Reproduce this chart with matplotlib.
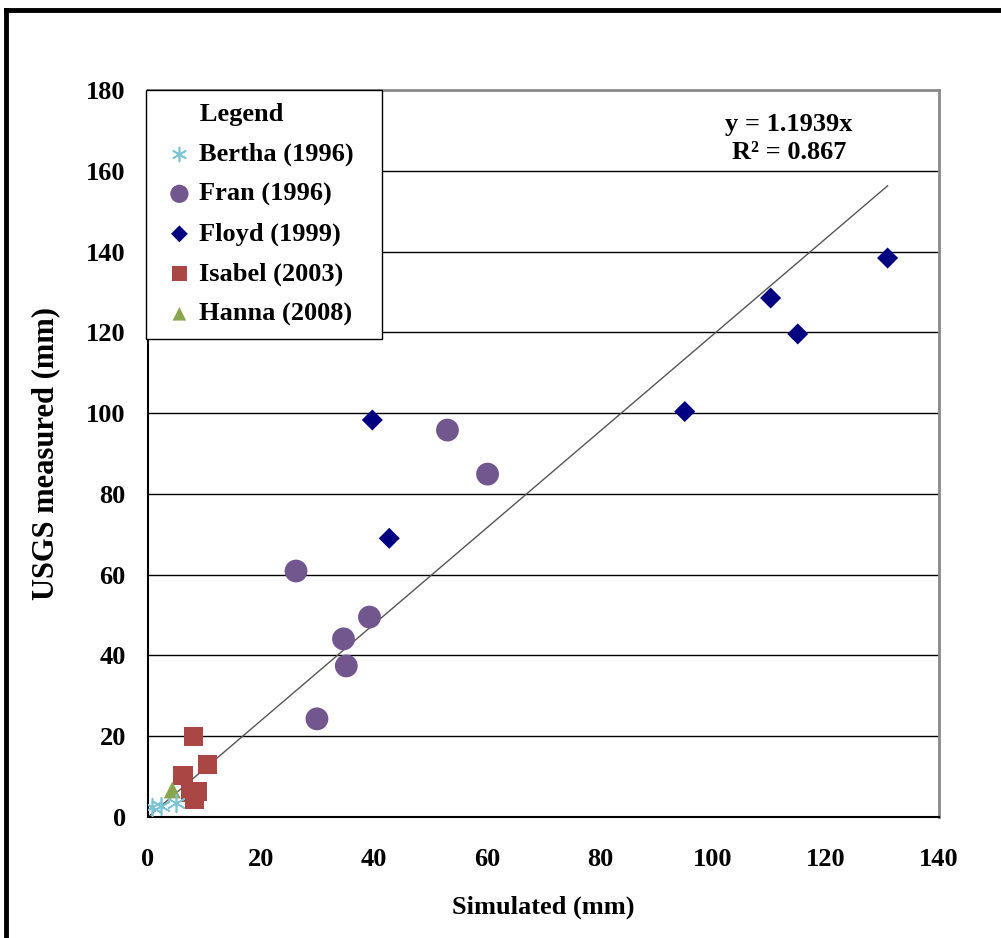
import matplotlib
matplotlib.use("Agg")
import matplotlib.pyplot as plt
from matplotlib.lines import Line2D
import numpy as np

plt.rcParams['font.family'] = ['Liberation Serif', 'DejaVu Serif']
plt.rcParams['font.weight'] = 'bold'

# Data (simulated mm, measured mm)
bertha_x = [0.7, 2.3, 5.0]
bertha_y = [2.5, 2.8, 3.5]
fran_x = [53.0, 60.1, 26.2, 39.2, 34.6, 35.1, 29.9]
fran_y = [95.8, 84.9, 60.9, 49.5, 44.1, 37.4, 24.3]
floyd_x = [130.9, 110.2, 115.0, 95.0, 39.7, 42.7]
floyd_y = [138.4, 128.5, 119.6, 100.4, 98.3, 69.0]
isabel_x = [8.0, 10.6, 6.2, 7.6, 8.7, 8.2]
isabel_y = [20.0, 13.1, 10.2, 6.2, 6.4, 4.3]
hanna_x = [4.3]
hanna_y = [6.7]

slope = 1.1939
r2 = 0.867

xticks = [0, 20, 40, 60, 80, 100, 120, 140]
yticks = [0, 20, 40, 60, 80, 100, 120, 140, 160, 180]

FS = 19

fig = plt.figure(figsize=(10.01, 9.38), dpi=100)
ax = fig.add_axes([148/1001, (938-817)/938, (939-148)/1001, (817-90)/938])
ax.set_xlim(0, 140)
ax.set_ylim(0, 180)

for yv in yticks[1:-1]:
    ax.axhline(yv, color='black', lw=1.0, zorder=1)

# Trendline
all_x = bertha_x + fran_x + floyd_x + isabel_x + hanna_x
xx = np.array([0, max(all_x)])
ax.plot(xx, slope * xx, color='#555555', lw=1.0, zorder=2)

ax.scatter(fran_x, fran_y, s=270, marker='o', color='#72578F', edgecolors='none', zorder=3, label='Fran (1996)')
ax.scatter(floyd_x, floyd_y, s=115, marker='D', color='#000080', edgecolors='none', zorder=3, label='Floyd (1999)')
ax.scatter(isabel_x, isabel_y, s=190, marker='s', color='#AA4643', edgecolors='none', zorder=3, label='Isabel (2003)')
ax.scatter(hanna_x, hanna_y, s=150, marker='^', color='#89A54E', edgecolors='none', zorder=3, label='Hanna (2008)')
ax.scatter(bertha_x, bertha_y, s=160, marker=(6, 2, 0), color='#7CC3D6', linewidths=1.2, zorder=4, label='Bertha (1996)')

ax.set_xticks(xticks)
ax.set_yticks(yticks)
ax.tick_params(labelsize=FS, length=0)
ax.tick_params(axis='x', pad=22)
ax.tick_params(axis='y', pad=16)
for lab in ax.get_xticklabels() + ax.get_yticklabels():
    lab.set_fontweight('bold')

ax.spines['left'].set_color('black')
ax.spines['bottom'].set_color('black')
ax.spines['left'].set_linewidth(1.5)
ax.spines['bottom'].set_linewidth(1.5)
ax.spines['top'].set_color('#8a8a8a')
ax.spines['right'].set_color('#8a8a8a')
ax.spines['top'].set_linewidth(2)
ax.spines['right'].set_linewidth(2)

ax.set_xlabel('Simulated (mm)', fontsize=FS, fontweight='bold', labelpad=18)
ax.set_ylabel('USGS measured (mm)', fontsize=22, fontweight='bold', labelpad=19)

ax.text(0.81, 0.933, 'y = 1.1939x\nR² = 0.867', transform=ax.transAxes, ha='center', va='center',
        fontsize=FS, fontweight='bold', linespacing=1.27)

handles, labels = ax.get_legend_handles_labels()
order = ['Bertha (1996)', 'Fran (1996)', 'Floyd (1999)', 'Isabel (2003)', 'Hanna (2008)']
hmap = dict(zip(labels, handles))
leg = ax.legend([hmap[k] for k in order], order, title='      Legend', loc='upper left',
                bbox_to_anchor=(-0.002, 0, 236/791, 1.0), mode='expand', borderaxespad=0,
                frameon=True, fancybox=False, alignment='left', framealpha=1.0,
                prop={'size': FS, 'weight': 'bold'}, title_fontproperties={'size': FS, 'weight': 'bold'},
                handletextpad=0.0, handlelength=1.5, labelspacing=0.61, borderpad=0.5,
                markerscale=0.8)
leg.get_frame().set_edgecolor('black')
leg.get_frame().set_linewidth(1.0)
leg.set_zorder(10)

# Outer frame (top and left)
fig.add_artist(Line2D([6/1001, 1.0], [1 - 10/938, 1 - 10/938], color='black', lw=3.5, transform=fig.transFigure))
fig.add_artist(Line2D([6/1001, 6/1001], [0, 1 - 10/938], color='black', lw=3.5, transform=fig.transFigure))

fig.savefig('out.png', dpi=100)
